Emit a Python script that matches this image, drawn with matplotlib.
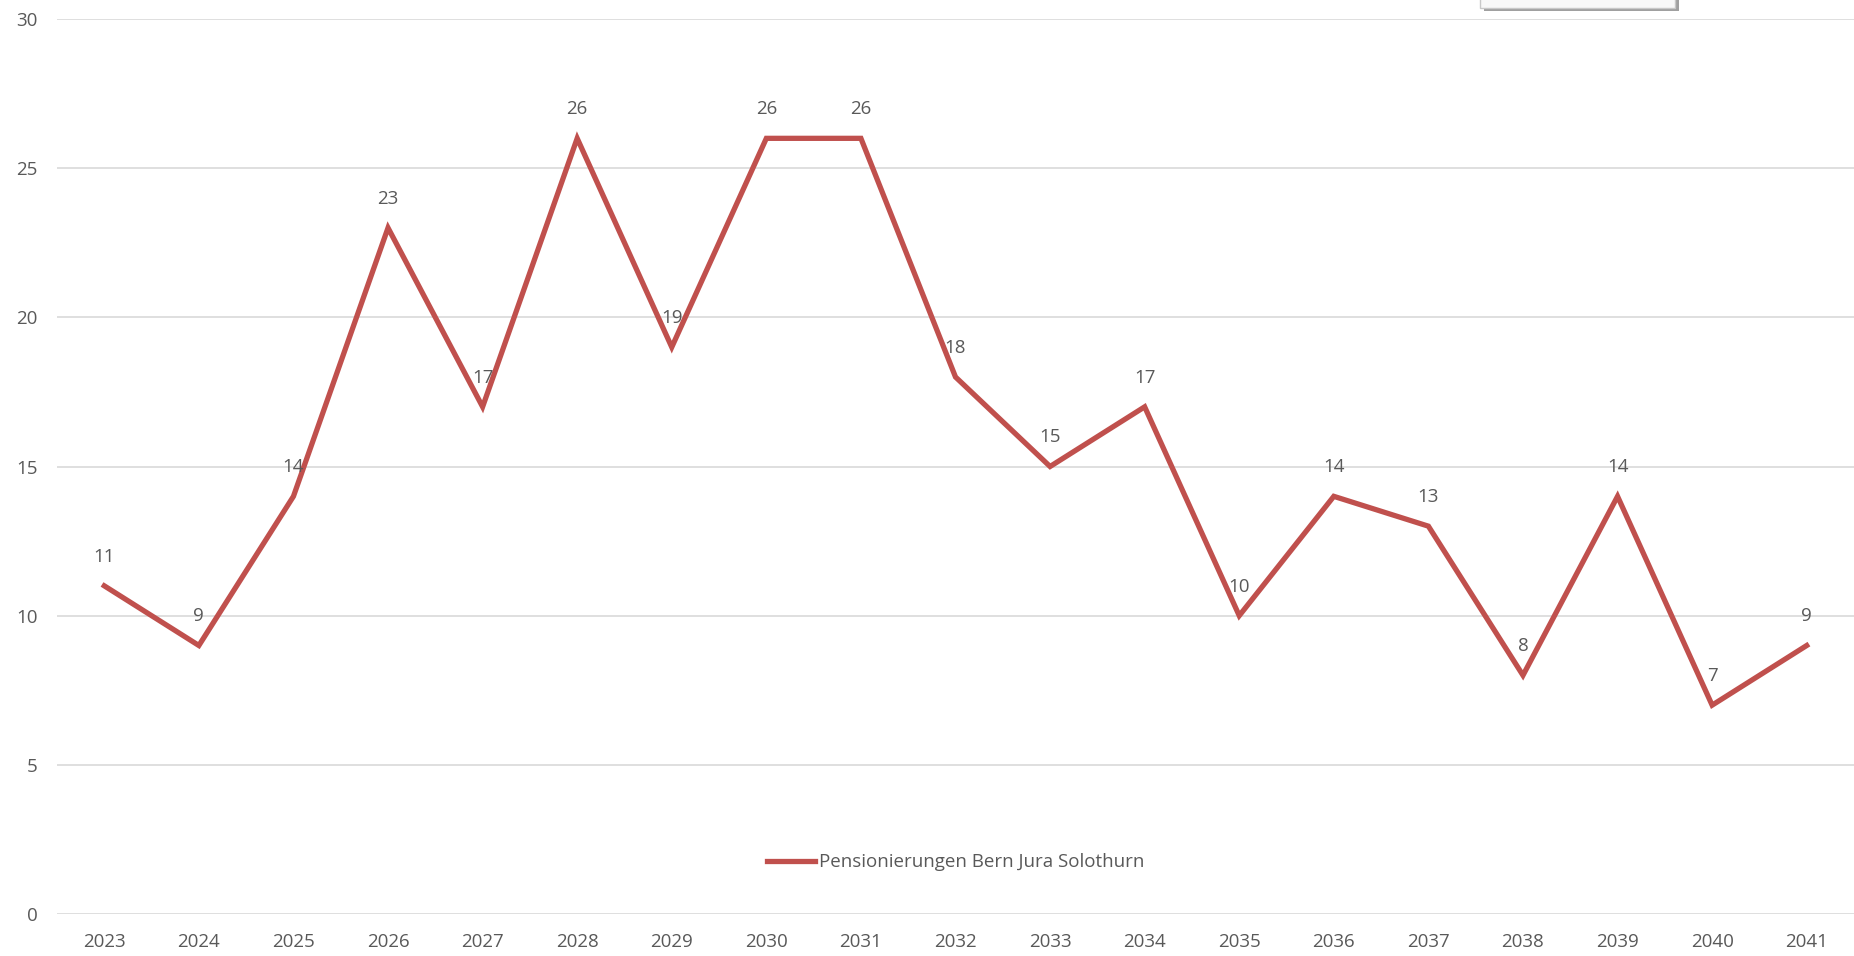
import matplotlib.pyplot as plt
from matplotlib.patches import Rectangle

years = ["2023", "2024", "2025", "2026", "2027", "2028", "2029", "2030", "2031", "2032",
         "2033", "2034", "2035", "2036", "2037", "2038", "2039", "2040", "2041"]
values = [11, 9, 14, 23, 17, 26, 19, 26, 26, 18, 15, 17, 10, 14, 13, 8, 14, 7, 9]
series_name = "Pensionierungen Bern Jura Solothurn"
yticks = [0, 5, 10, 15, 20, 25, 30]

grey = "#595959"
red = "#C0504D"
plt.rcParams['font.family'] = ['Open Sans', 'DejaVu Sans']

fig = plt.figure(figsize=(18.54, 9.56), dpi=100)
ax = fig.add_axes([57 / 1854, 42 / 956, 1 - 57 / 1854, (914 - 19) / 956])

x = list(range(len(years)))
ax.plot(x, values, color=red, linewidth=3.8, solid_joinstyle='miter', label=series_name)
for xi, v in zip(x, values):
    ax.annotate(str(v), (xi, v), xytext=(0, 21), textcoords='offset points',
                ha='center', va='center', fontsize=13.5, color=grey)

ax.set_xlim(-0.5, len(years) - 0.5)
ax.set_ylim(0, 30)
ax.set_xticks(x)
ax.set_xticklabels(years)
ax.set_yticks(yticks)
ax.tick_params(axis='both', length=0, labelsize=13.5, colors=grey)
ax.tick_params(axis='x', pad=14)
ax.tick_params(axis='y', pad=14)
ax.grid(axis='y', color='#D9D9D9', linewidth=1.2)
ax.set_axisbelow(True)
for s in ax.spines.values():
    s.set_visible(False)

ax.legend(loc='center', bbox_to_anchor=(0.5, 0.058), frameon=False, fontsize=13.5,
          handlelength=2.6, handletextpad=0.2, labelcolor=grey)

# cut-off popup box at the top edge
fig.patches.append(Rectangle((1484 / 1854, 945 / 956), 195 / 1854, 20 / 956,
                             transform=fig.transFigure, facecolor='#A0A0A0', edgecolor='none'))
fig.patches.append(Rectangle((1480 / 1854, 948 / 956), 195 / 1854, 20 / 956,
                             transform=fig.transFigure, facecolor='#F8F8F8', edgecolor='#C8C8C8',
                             linewidth=1))

fig.savefig("out.png", dpi=100)
